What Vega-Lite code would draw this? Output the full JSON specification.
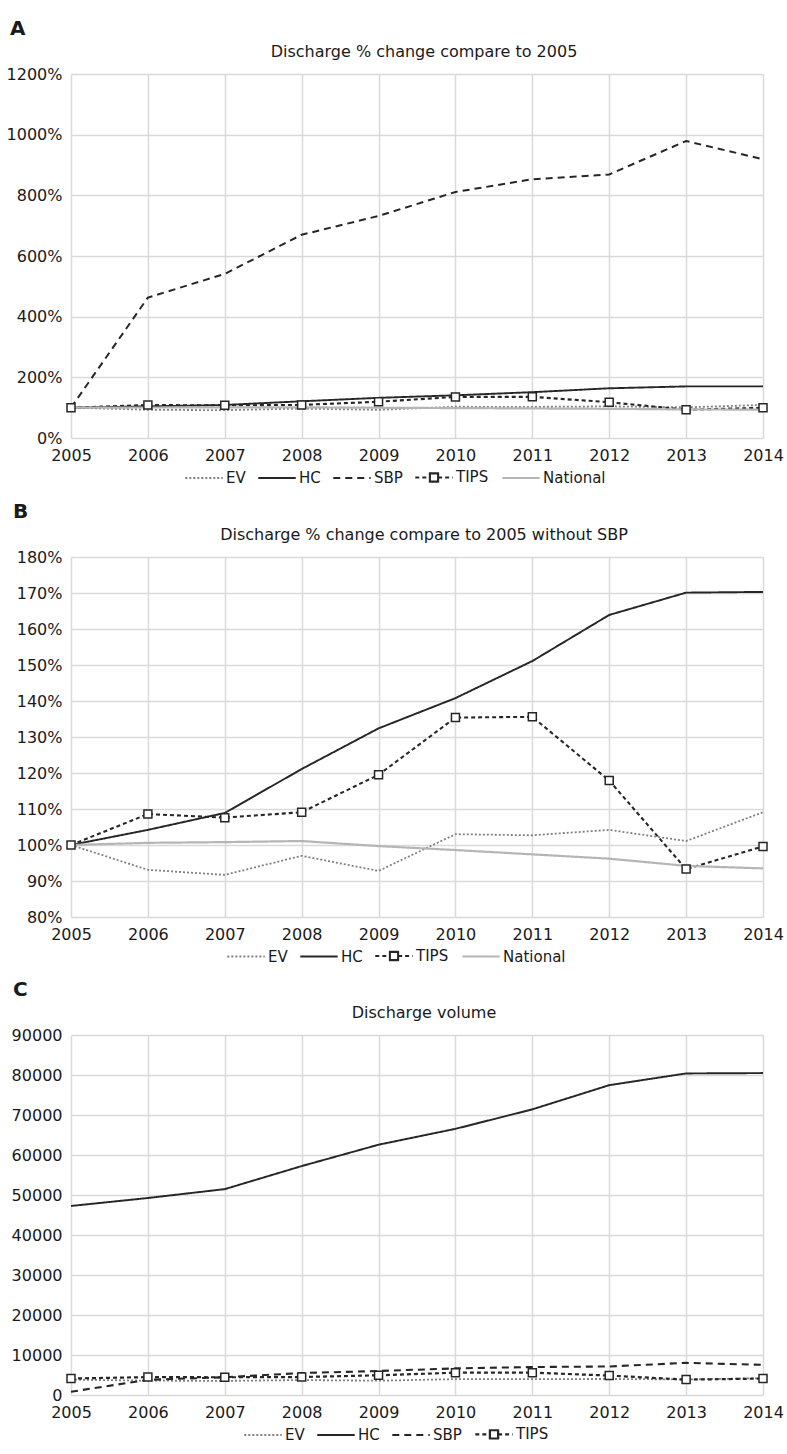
{
  "$schema": "https://vega.github.io/schema/vega-lite/v6.json",
  "padding": {"left": 6, "top": 19, "right": 20, "bottom": 4},
  "background": "white",
  "datasets": {
    "pct": [
      {"year": 2005, "series": "EV", "value": 100}, {"year": 2006, "series": "EV", "value": 93.1}, {"year": 2007, "series": "EV", "value": 91.7}, {"year": 2008, "series": "EV", "value": 97.0}, {"year": 2009, "series": "EV", "value": 92.8}, {"year": 2010, "series": "EV", "value": 103.0}, {"year": 2011, "series": "EV", "value": 102.7}, {"year": 2012, "series": "EV", "value": 104.2}, {"year": 2013, "series": "EV", "value": 101.1}, {"year": 2014, "series": "EV", "value": 109.1},
      {"year": 2005, "series": "HC", "value": 100}, {"year": 2006, "series": "HC", "value": 104.2}, {"year": 2007, "series": "HC", "value": 108.9}, {"year": 2008, "series": "HC", "value": 121.1}, {"year": 2009, "series": "HC", "value": 132.4}, {"year": 2010, "series": "HC", "value": 140.8}, {"year": 2011, "series": "HC", "value": 151.1}, {"year": 2012, "series": "HC", "value": 163.9}, {"year": 2013, "series": "HC", "value": 170.1}, {"year": 2014, "series": "HC", "value": 170.3},
      {"year": 2005, "series": "SBP", "value": 100}, {"year": 2006, "series": "SBP", "value": 463}, {"year": 2007, "series": "SBP", "value": 541}, {"year": 2008, "series": "SBP", "value": 670}, {"year": 2009, "series": "SBP", "value": 732}, {"year": 2010, "series": "SBP", "value": 811}, {"year": 2011, "series": "SBP", "value": 853}, {"year": 2012, "series": "SBP", "value": 869}, {"year": 2013, "series": "SBP", "value": 979}, {"year": 2014, "series": "SBP", "value": 919},
      {"year": 2005, "series": "TIPS", "value": 100}, {"year": 2006, "series": "TIPS", "value": 108.6}, {"year": 2007, "series": "TIPS", "value": 107.6}, {"year": 2008, "series": "TIPS", "value": 109.1}, {"year": 2009, "series": "TIPS", "value": 119.5}, {"year": 2010, "series": "TIPS", "value": 135.4}, {"year": 2011, "series": "TIPS", "value": 135.6}, {"year": 2012, "series": "TIPS", "value": 117.9}, {"year": 2013, "series": "TIPS", "value": 93.3}, {"year": 2014, "series": "TIPS", "value": 99.6},
      {"year": 2005, "series": "National", "value": 100}, {"year": 2006, "series": "National", "value": 100.6}, {"year": 2007, "series": "National", "value": 100.8}, {"year": 2008, "series": "National", "value": 101.1}, {"year": 2009, "series": "National", "value": 99.7}, {"year": 2010, "series": "National", "value": 98.6}, {"year": 2011, "series": "National", "value": 97.4}, {"year": 2012, "series": "National", "value": 96.2}, {"year": 2013, "series": "National", "value": 94.2}, {"year": 2014, "series": "National", "value": 93.5}
    ],
    "vol": [
      {"year": 2005, "series": "EV", "value": 3850}, {"year": 2006, "series": "EV", "value": 3584}, {"year": 2007, "series": "EV", "value": 3530}, {"year": 2008, "series": "EV", "value": 3735}, {"year": 2009, "series": "EV", "value": 3573}, {"year": 2010, "series": "EV", "value": 3966}, {"year": 2011, "series": "EV", "value": 3954}, {"year": 2012, "series": "EV", "value": 4012}, {"year": 2013, "series": "EV", "value": 3892}, {"year": 2014, "series": "EV", "value": 4200},
      {"year": 2005, "series": "HC", "value": 47260}, {"year": 2006, "series": "HC", "value": 49250}, {"year": 2007, "series": "HC", "value": 51470}, {"year": 2008, "series": "HC", "value": 57230}, {"year": 2009, "series": "HC", "value": 62570}, {"year": 2010, "series": "HC", "value": 66540}, {"year": 2011, "series": "HC", "value": 71410}, {"year": 2012, "series": "HC", "value": 77460}, {"year": 2013, "series": "HC", "value": 80390}, {"year": 2014, "series": "HC", "value": 80480},
      {"year": 2005, "series": "SBP", "value": 820}, {"year": 2006, "series": "SBP", "value": 3797}, {"year": 2007, "series": "SBP", "value": 4436}, {"year": 2008, "series": "SBP", "value": 5494}, {"year": 2009, "series": "SBP", "value": 6002}, {"year": 2010, "series": "SBP", "value": 6650}, {"year": 2011, "series": "SBP", "value": 6995}, {"year": 2012, "series": "SBP", "value": 7126}, {"year": 2013, "series": "SBP", "value": 8028}, {"year": 2014, "series": "SBP", "value": 7536},
      {"year": 2005, "series": "TIPS", "value": 4120}, {"year": 2006, "series": "TIPS", "value": 4474}, {"year": 2007, "series": "TIPS", "value": 4433}, {"year": 2008, "series": "TIPS", "value": 4495}, {"year": 2009, "series": "TIPS", "value": 4923}, {"year": 2010, "series": "TIPS", "value": 5578}, {"year": 2011, "series": "TIPS", "value": 5587}, {"year": 2012, "series": "TIPS", "value": 4857}, {"year": 2013, "series": "TIPS", "value": 3844}, {"year": 2014, "series": "TIPS", "value": 4104}
    ]
  },
  "spacing": 15,
  "resolve": {
    "scale": {"color": "independent", "strokeDash": "independent", "strokeWidth": "independent", "x": "independent", "y": "independent"},
    "legend": {"color": "independent", "strokeDash": "independent", "strokeWidth": "independent"}
  },
  "vconcat": [
    {
      "title": {"text": "A", "anchor": "start", "frame": "bounds", "fontSize": 20, "fontWeight": "bold", "offset": 5, "dx": 4},
      "vconcat": [
        {
          "width": 692, "height": 364,
          "title": {"text": "Discharge % change compare to 2005", "offset": 6, "dx": 7},
          "data": {"name": "pct"},
          "encoding": {
            "x": {"field": "year", "type": "quantitative", "scale": {"domain": [2005, 2014], "nice": false, "zero": false}, "axis": {"values": [2005, 2006, 2007, 2008, 2009, 2010, 2011, 2012, 2013, 2014], "format": "d"}},
            "y": {"field": "value", "type": "quantitative", "scale": {"domain": [0, 1200], "nice": false}, "axis": {"values": [0, 200, 400, 600, 800, 1000, 1200], "labelExpr": "datum.value + '%'"}}
          },
          "layer": [
            {
              "mark": {"type": "line"},
              "encoding": {
                "color": {"field": "series", "type": "nominal", "scale": {"domain": ["EV", "HC", "SBP", "TIPS", "National"], "range": ["#808080", "#262626", "#262626", "#262626", "#b5b5b5"]},
                  "legend": {"encode": {"symbols": {"update": {"shape": {"signal": "datum.value === 'TIPS' ? 'M-1,0H-0.22M0.22,0H1M-0.26,-0.22H-0.087M-0.087,-0.22H0.087M0.087,-0.22H0.26M-0.26,0.22H-0.087M-0.087,0.22H0.087M0.087,0.22H0.26M-0.22,-0.26V-0.087M-0.22,-0.087V0.087M-0.22,0.087V0.26M0.22,-0.26V-0.087M0.22,-0.087V0.087M0.22,0.087V0.26' : 'stroke'"}, "fill": {"value": "transparent"}}}}}},
                "strokeDash": {"field": "series", "type": "nominal", "scale": {"domain": ["EV", "HC", "SBP", "TIPS", "National"], "range": [[2, 2], [1, 0], [7, 5], [4, 3], [1, 0]]}},
                "strokeWidth": {"field": "series", "type": "nominal", "scale": {"domain": ["EV", "HC", "SBP", "TIPS", "National"], "range": [1.8, 2.2, 2.5, 2, 2.6]}}
              }
            },
            {
              "transform": [{"filter": "datum.series === 'TIPS'"}],
              "mark": {"type": "point", "shape": "square", "filled": true, "fill": "white", "stroke": "#262626", "strokeWidth": 1.5, "size": 64, "opacity": 1}
            }
          ]
        }
      ]
    },
    {
      "title": {"text": "B", "anchor": "start", "frame": "bounds", "fontSize": 20, "fontWeight": "bold", "offset": 5, "dx": 4},
      "vconcat": [
        {
          "width": 692, "height": 360,
          "title": {"text": "Discharge % change compare to 2005 without SBP", "offset": 6, "dx": 7},
          "data": {"name": "pct"},
          "transform": [{"filter": "datum.series !== 'SBP'"}],
          "encoding": {
            "x": {"field": "year", "type": "quantitative", "scale": {"domain": [2005, 2014], "nice": false, "zero": false}, "axis": {"values": [2005, 2006, 2007, 2008, 2009, 2010, 2011, 2012, 2013, 2014], "format": "d"}},
            "y": {"field": "value", "type": "quantitative", "scale": {"domain": [80, 180], "nice": false, "zero": false}, "axis": {"values": [80, 90, 100, 110, 120, 130, 140, 150, 160, 170, 180], "labelExpr": "datum.value + '%'"}}
          },
          "layer": [
            {
              "mark": {"type": "line"},
              "encoding": {
                "color": {"field": "series", "type": "nominal", "scale": {"domain": ["EV", "HC", "TIPS", "National"], "range": ["#808080", "#262626", "#262626", "#b5b5b5"]},
                  "legend": {"encode": {"symbols": {"update": {"shape": {"signal": "datum.value === 'TIPS' ? 'M-1,0H-0.22M0.22,0H1M-0.26,-0.22H-0.087M-0.087,-0.22H0.087M0.087,-0.22H0.26M-0.26,0.22H-0.087M-0.087,0.22H0.087M0.087,0.22H0.26M-0.22,-0.26V-0.087M-0.22,-0.087V0.087M-0.22,0.087V0.26M0.22,-0.26V-0.087M0.22,-0.087V0.087M0.22,0.087V0.26' : 'stroke'"}, "fill": {"value": "transparent"}}}}}},
                "strokeDash": {"field": "series", "type": "nominal", "scale": {"domain": ["EV", "HC", "TIPS", "National"], "range": [[2, 2], [1, 0], [4, 3], [1, 0]]}},
                "strokeWidth": {"field": "series", "type": "nominal", "scale": {"domain": ["EV", "HC", "TIPS", "National"], "range": [1.8, 2.2, 2, 2.6]}}
              }
            },
            {
              "transform": [{"filter": "datum.series === 'TIPS'"}],
              "mark": {"type": "point", "shape": "square", "filled": true, "fill": "white", "stroke": "#262626", "strokeWidth": 1.5, "size": 64, "opacity": 1}
            }
          ]
        }
      ]
    },
    {
      "title": {"text": "C", "anchor": "start", "frame": "bounds", "fontSize": 20, "fontWeight": "bold", "offset": 5, "dx": 4},
      "vconcat": [
        {
          "width": 692, "height": 360,
          "title": {"text": "Discharge volume", "offset": 6, "dx": 7},
          "data": {"name": "vol"},
          "encoding": {
            "x": {"field": "year", "type": "quantitative", "scale": {"domain": [2005, 2014], "nice": false, "zero": false}, "axis": {"values": [2005, 2006, 2007, 2008, 2009, 2010, 2011, 2012, 2013, 2014], "format": "d"}},
            "y": {"field": "value", "type": "quantitative", "scale": {"domain": [0, 90000], "nice": false}, "axis": {"values": [0, 10000, 20000, 30000, 40000, 50000, 60000, 70000, 80000, 90000], "format": "d"}}
          },
          "layer": [
            {
              "mark": {"type": "line"},
              "encoding": {
                "color": {"field": "series", "type": "nominal", "scale": {"domain": ["EV", "HC", "SBP", "TIPS"], "range": ["#808080", "#262626", "#262626", "#262626"]},
                  "legend": {"encode": {"symbols": {"update": {"shape": {"signal": "datum.value === 'TIPS' ? 'M-1,0H-0.22M0.22,0H1M-0.26,-0.22H-0.087M-0.087,-0.22H0.087M0.087,-0.22H0.26M-0.26,0.22H-0.087M-0.087,0.22H0.087M0.087,0.22H0.26M-0.22,-0.26V-0.087M-0.22,-0.087V0.087M-0.22,0.087V0.26M0.22,-0.26V-0.087M0.22,-0.087V0.087M0.22,0.087V0.26' : 'stroke'"}, "fill": {"value": "transparent"}}}}}},
                "strokeDash": {"field": "series", "type": "nominal", "scale": {"domain": ["EV", "HC", "SBP", "TIPS"], "range": [[2, 2], [1, 0], [7, 5], [4, 3]]}},
                "strokeWidth": {"field": "series", "type": "nominal", "scale": {"domain": ["EV", "HC", "SBP", "TIPS"], "range": [1.8, 2.2, 2.5, 2]}}
              }
            },
            {
              "transform": [{"filter": "datum.series === 'TIPS'"}],
              "mark": {"type": "point", "shape": "square", "filled": true, "fill": "white", "stroke": "#262626", "strokeWidth": 1.5, "size": 64, "opacity": 1}
            }
          ]
        }
      ]
    }
  ],
  "config": {
    "font": "DejaVu Sans",
    "view": {"stroke": null},
    "axis": {"title": null, "ticks": false, "domain": false, "grid": true, "gridColor": "#d9d9d9", "gridWidth": 1.5, "labelFontSize": 16, "labelColor": "#1a1a1a", "labelFont": "DejaVu Sans", "labelFlush": false, "labelOverlap": false, "labelPadding": 9},
    "axisY": {"minExtent": 62, "maxExtent": 62, "labelPadding": 9},
    "legend": {"orient": "bottom", "direction": "horizontal", "title": null, "labelFontSize": 15, "labelColor": "#1a1a1a", "labelFont": "DejaVu Sans", "symbolType": "stroke", "symbolSize": 1400, "columnPadding": 8, "labelOffset": 2, "offset": -6, "padding": 0, "layout": {"bottom": {"anchor": "middle"}}},
    "title": {"font": "DejaVu Sans", "fontSize": 16, "fontWeight": "normal", "color": "#1a1a1a", "anchor": "middle", "offset": 10}
  }
}
